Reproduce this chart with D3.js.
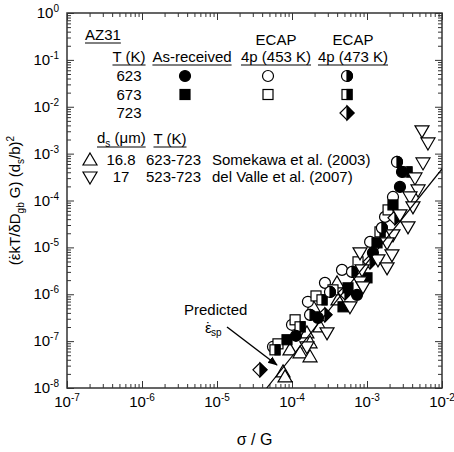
<!DOCTYPE html>
<html>
<head>
<meta charset="utf-8">
<script src="https://cdn.jsdelivr.net/npm/d3@7"></script>
<style>
  body { margin: 0; background: #fff; }
  svg { font-family: "Liberation Sans", Arial, sans-serif; }
</style>
</head>
<body>
<div id="chart"></div>
<script>
// ---- data ----
// As-received
const arT623X = [2.93e-3, 2.75e-3, 1.20e-3, 7.36e-4, 2.22e-4, 1.13e-4];
const arT623Y = [4.07e-4, 1.95e-4, 7.64e-6, 9.7e-7, 3.14e-7, 1.3e-7];
const arT673X = [2.22e-3, 1.36e-3, 1.0e-3, 5.58e-4, 4.79e-4, 8.58e-5];
const arT673Y = [8.05e-5, 1.25e-5, 2.24e-6, 1.37e-6, 5.4e-7, 1.07e-7];
// ECAP 4p (453 K)
const e453T623X = [2.22e-3, 1.74e-3, 1.10e-3, 4.64e-4, 2.75e-4, 1.63e-4, 1.0e-4, 5.58e-5];
const e453T623Y = [1.19e-4, 4.47e-5, 1.31e-5, 3.31e-6, 1.75e-6, 6.9e-7, 2.23e-7, 7.56e-8];
const e453T673X = [1.91e-3, 7.59e-4, 3.52e-4, 2.09e-4, 1.10e-4, 6.5e-5];
const e453T673Y = [6.3e-5, 4.91e-6, 1.24e-6, 9.2e-7, 2.85e-7, 8.75e-8];
// ECAP 4p (473 K)
const e473T623X = [2.51e-3, 1.58e-3, 6.31e-4, 3.21e-4, 1.74e-4];
const e473T623Y = [6.65e-4, 2.61e-5, 3.0e-6, 1.12e-6, 3.64e-7];
const e473T673X = [3.41e-3, 1.49e-3, 2.51e-4, 1.28e-4, 5.93e-5];
const e473T673Y = [4.07e-4, 2.14e-5, 7.6e-7, 2.02e-7, 6.52e-8];
const e473T723X = [2.36e-3, 1.10e-3, 5.09e-4, 2.75e-4, 3.74e-5];
const e473T723Y = [4.26e-5, 4.91e-6, 1.07e-6, 3.64e-7, 2.44e-8];
// Somekawa et al. (2003)
const somekawaX = [3.98e-4, 4.1e-4, 1.91e-4, 2.36e-4, 1.58e-4, 1.74e-4, 9.4e-5, 1.28e-4, 1.74e-4, 7.59e-5, 8.07e-5];
const somekawaY = [1.75e-6, 7.6e-7, 5.4e-7, 2.02e-7, 1.5e-7, 9.2e-8, 6.52e-8, 5.63e-8, 4.63e-8, 2.21e-8, 1.73e-8];
// del Valle et al. (2007)
const delValleX = [5.41e-3, 6.5e-3, 5.58e-3, 4.36e-3, 4.79e-3, 3.74e-3, 4.1e-3, 2.75e-3, 3.52e-3, 2.22e-3, 1.85e-3,
                   2.15e-3, 1.40e-3, 8.07e-4, 1.85e-3, 8.58e-4, 8.07e-4, 8.84e-4, 5.93e-4, 2.93e-4, 1.58e-4];
const delValleY = [3.05e-3, 1.69e-3, 6.33e-4, 3.03e-4, 1.68e-4, 1.19e-4, 7.31e-5, 4.93e-5, 2.74e-5, 1.85e-5, 1.25e-5,
                   6.92e-6, 5.41e-6, 7.64e-6, 3.66e-6, 3.31e-6, 1.84e-6, 1.44e-6, 5.4e-7, 1.5e-7, 7.56e-8];
// predicted line (slope 2) and its arrow
const predX = [4.6e-5, 1e-2];
const predY = [1e-8, 4.7e-4];
const arrowX = [1.36e-5, 6.3e-5];
const arrowY = [2.0e-7, 3.1e-8];

// axis domains / tick labels
const xDomain = [1e-7, 1e-2];
const yDomain = [1e-8, 1];
const xExponents = [-7, -6, -5, -4, -3, -2];
const yExponents = [0, -1, -2, -3, -4, -5, -6, -7, -8];

// legend text
const legendTemps = ['623', '673', '723'];
const refRows = [
    { ds: '16.8', T: '623-723', name: 'Somekawa et al. (2003)', shape: 'triUp' },
    { ds: '17', T: '523-723', name: 'del Valle et al. (2007)', shape: 'triDown' }
];

// ---- setup ----
const margin = { top: 13, left: 67 };
const plotW = 375, plotH = 375;

const svg = d3.select('#chart')
    .append('svg')
    .attr('width', 454)
    .attr('height', 452);

const g = svg.append('g')
    .attr('transform', `translate(${margin.left},${margin.top})`);

const x = d3.scaleLog().domain(xDomain).range([0, plotW]);
const y = d3.scaleLog().domain(yDomain).range([plotH, 0]);

const isMajor = v => Math.abs(Math.log10(v) - Math.round(Math.log10(v))) < 1e-6;

// ---- ticks on all four sides, pointing inward ----
function addAxis(axisFn, scale, tr, len, vals) {
    const ax = g.append('g')
        .attr('transform', tr)
        .call(axisFn(scale).tickValues(vals).tickSize(-len).tickFormat(''));
    ax.select('.domain').remove();
    ax.selectAll('line').attr('stroke', '#333').attr('stroke-width', 1);
}
const xMaj = x.ticks().filter(isMajor), xMin = x.ticks().filter(v => !isMajor(v));
const yMaj = y.ticks().filter(isMajor), yMin = y.ticks().filter(v => !isMajor(v));
addAxis(d3.axisBottom, x, `translate(0,${plotH})`, 7, xMaj);
addAxis(d3.axisBottom, x, `translate(0,${plotH})`, 4, xMin);
addAxis(d3.axisTop, x, 'translate(0,0)', 7, xMaj);
addAxis(d3.axisTop, x, 'translate(0,0)', 4, xMin);
addAxis(d3.axisLeft, y, 'translate(0,0)', 7, yMaj);
addAxis(d3.axisLeft, y, 'translate(0,0)', 4, yMin);
addAxis(d3.axisRight, y, `translate(${plotW},0)`, 7, yMaj);
addAxis(d3.axisRight, y, `translate(${plotW},0)`, 4, yMin);

g.append('rect')
    .attr('width', plotW).attr('height', plotH)
    .attr('fill', 'none').attr('stroke', '#333').attr('stroke-width', 1.5);

// tick labels 10^n
xExponents.forEach(e => {
    const t = g.append('text')
        .attr('x', x(Math.pow(10, e)))
        .attr('y', plotH + 19)
        .attr('text-anchor', 'middle')
        .style('font-size', '15px')
        .text('10');
    t.append('tspan').attr('dy', -6).style('font-size', '10px').text(e);
});
yExponents.forEach(e => {
    const t = g.append('text')
        .attr('x', -8)
        .attr('y', y(Math.pow(10, e)) + 5)
        .attr('text-anchor', 'end')
        .style('font-size', '15px')
        .text('10');
    t.append('tspan').attr('dy', -6).style('font-size', '10px').text(e);
});

// epsilon with a dot above it, written into a text element
function addEpsDot(t) {
    t.append('tspan').text('\u03B5');
    t.append('tspan').attr('dx', -5.8).text('\u02D9');
    t.append('tspan').attr('dx', 0.8).text('');
}

// axis titles
g.append('text')
    .attr('x', plotW / 2).attr('y', plotH + 57)
    .attr('text-anchor', 'middle')
    .style('font-size', '16px')
    .text('σ / G');

const yt = g.append('text')
    .attr('transform', `translate(-47,${plotH / 2}) rotate(-90)`)
    .attr('text-anchor', 'middle')
    .style('font-size', '15px');
yt.append('tspan').text('(');
addEpsDot(yt);
yt.append('tspan').attr('dx', 0.8).text('kT/\u03B4D');
yt.append('tspan').attr('dy', 4).style('font-size', '10px').text('gb');
yt.append('tspan').attr('dy', -4).text(' G) (d');
yt.append('tspan').attr('dy', 4).style('font-size', '10px').text('s');
yt.append('tspan').attr('dy', -4).text('/b)');
yt.append('tspan').attr('dy', -6).style('font-size', '10px').text('2');

// ---- markers ----
function drawMarker(sel, type, cx, cy) {
    const m = sel.append('g').attr('transform', `translate(${cx},${cy})`)
        .attr('stroke', '#000').attr('stroke-width', 1.2);
    const r = 5.5;
    if (type.startsWith('circle')) {
        m.append('circle').attr('r', r).attr('fill', type === 'circleFilled' ? '#000' : '#fff');
        if (type === 'circleHalf')
            m.append('path').attr('d', `M0,${-r}A${r},${r} 0 0 1 0,${r}Z`).attr('fill', '#000');
    } else if (type.startsWith('square')) {
        m.append('rect').attr('x', -5).attr('y', -5).attr('width', 10).attr('height', 10)
            .attr('fill', type === 'squareFilled' ? '#000' : '#fff');
        if (type === 'squareHalf')
            m.append('rect').attr('x', 0).attr('y', -5).attr('width', 5).attr('height', 10).attr('fill', '#000');
    } else if (type === 'diamondHalf') {
        m.append('polygon').attr('points', '0,-7 7,0 0,7 -7,0').attr('fill', '#fff');
        m.append('polygon').attr('points', '0,-7 7,0 0,7').attr('fill', '#000');
    } else if (type === 'triUp') {
        m.append('polygon').attr('points', '0,-7 7,5 -7,5').attr('fill', '#fff');
    } else if (type === 'triDown') {
        m.append('polygon').attr('points', '0,7 7,-5 -7,-5').attr('fill', '#fff');
    }
}

const series = [
    { xs: somekawaX, ys: somekawaY, shape: 'triUp' },
    { xs: e453T623X, ys: e453T623Y, shape: 'circleOpen' },
    { xs: e453T673X, ys: e453T673Y, shape: 'squareOpen' },
    { xs: e473T723X, ys: e473T723Y, shape: 'diamondHalf' },
    { xs: e473T673X, ys: e473T673Y, shape: 'squareHalf' },
    { xs: e473T623X, ys: e473T623Y, shape: 'circleHalf' },
    { xs: arT673X, ys: arT673Y, shape: 'squareFilled' },
    { xs: arT623X, ys: arT623Y, shape: 'circleFilled' },
    { xs: delValleX, ys: delValleY, shape: 'triDown' }
];

const dataG = g.append('g');
series.forEach(s => {
    s.xs.forEach((v, i) => drawMarker(dataG, s.shape, x(v), y(s.ys[i])));
});

// predicted line, clipped to the frame
svg.append('defs').append('clipPath').attr('id', 'plotClip')
    .append('rect').attr('width', plotW).attr('height', plotH);
g.append('path')
    .datum(predX.map((v, i) => [v, predY[i]]))
    .attr('clip-path', 'url(#plotClip)')
    .attr('fill', 'none').attr('stroke', '#000').attr('stroke-width', 1.2)
    .attr('d', d3.line().x(d => x(d[0])).y(d => y(d[1])));

// arrow + label
svg.select('defs').append('marker')
    .attr('id', 'arrowHead')
    .attr('viewBox', '0 0 10 10').attr('refX', 9).attr('refY', 5)
    .attr('markerWidth', 7).attr('markerHeight', 7)
    .attr('orient', 'auto')
    .append('path').attr('d', 'M0,1L10,5L0,9Z').attr('fill', '#000');
g.append('line')
    .attr('x1', x(arrowX[0])).attr('y1', y(arrowY[0]))
    .attr('x2', x(arrowX[1])).attr('y2', y(arrowY[1]))
    .attr('stroke', '#000').attr('stroke-width', 1.4)
    .attr('marker-end', 'url(#arrowHead)');

// ---- text annotations (absolute page coordinates) ----
function addText(px, py, str, anchor, size, underline) {
    const t = svg.append('text')
        .attr('x', px).attr('y', py)
        .attr('text-anchor', anchor || 'start')
        .style('font-size', (size || 15) + 'px')
        .text(str);
    if (underline) {
        const bb = t.node().getBBox();
        svg.append('line')
            .attr('x1', bb.x).attr('x2', bb.x + bb.width)
            .attr('y1', py + 3).attr('y2', py + 3)
            .attr('stroke', '#000').attr('stroke-width', 1);
    }
    return t;
}

addText(184, 315, 'Predicted');
const eps = addText(205, 333, '');
addEpsDot(eps);
eps.append('tspan').attr('dy', 3).style('font-size', '10px').text('sp');

// legend block 1
addText(85, 40, 'AZ31', 'start', 15, true);
addText(129, 62, 'T (K)', 'middle', 15, true);
addText(192, 62, 'As-received', 'middle', 15, true);
addText(276, 45, 'ECAP', 'middle');
addText(276, 62, '4p (453 K)', 'middle', 15, true);
addText(353, 45, 'ECAP', 'middle');
addText(353, 62, '4p (473 K)', 'middle', 15, true);

const rowY = [76, 94.5, 113];
legendTemps.forEach((tk, i) => addText(129, rowY[i] + 5, tk, 'middle'));
drawMarker(svg, 'circleFilled', 185, rowY[0]);
drawMarker(svg, 'squareFilled', 185, rowY[1]);
drawMarker(svg, 'circleOpen', 268, rowY[0]);
drawMarker(svg, 'squareOpen', 268, rowY[1]);
drawMarker(svg, 'circleHalf', 347, rowY[0]);
drawMarker(svg, 'squareHalf', 347, rowY[1]);
drawMarker(svg, 'diamondHalf', 347, rowY[2]);

// legend block 2
const ds = addText(97, 143, 'd', 'start', 15, false);
ds.append('tspan').attr('dy', 4).style('font-size', '10px').text('s');
ds.append('tspan').attr('dy', -4).text(' (\u03BCm)');
const dsBox = ds.node().getBBox();
svg.append('line')
    .attr('x1', dsBox.x).attr('x2', dsBox.x + dsBox.width)
    .attr('y1', 147).attr('y2', 147).attr('stroke', '#000');
addText(170, 144, 'T (K)', 'middle', 15, true);

const refY = [160, 177];
refRows.forEach((r, i) => {
    drawMarker(svg, r.shape, 90, refY[i]);
    addText(121, refY[i] + 5, r.ds, 'middle');
    addText(146, refY[i] + 5, r.T);
    addText(212, refY[i] + 5, r.name);
});
</script>
</body>
</html>
